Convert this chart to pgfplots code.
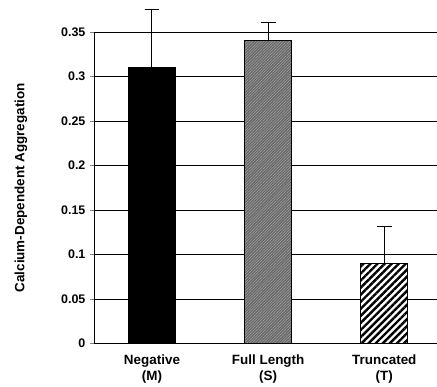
\documentclass[border=0pt]{standalone}
\usepackage{pgfplots}
\pgfplotsset{compat=1.18}
\usepackage{fontspec}
\setmainfont{Liberation Sans}
\usetikzlibrary{patterns.meta}
\begin{document}
\begin{tikzpicture}
\begin{axis}[
  scale only axis,
  width=343bp, height=312bp,
  xmin=-0.5, xmax=2.45,
  ymin=0, ymax=0.35,
  axis x line=bottom, axis y line=left,
  axis line style={-, line width=0.8pt},
  clip=false,
  ytick={0,0.05,...,0.35},
  yticklabels={0,0.05,0.1,0.15,0.2,0.25,0.3,0.35},
  yticklabel style={font=\fontsize{12.5}{14}\selectfont\bfseries, xshift=-1bp},
  xtick={0,1,2},
  xticklabels={{Negative\\(M)},{Full Length\\(S)},{Truncated\\(T)}},
  xticklabel style={font=\fontsize{13.5}{16}\selectfont\bfseries, align=center, yshift=-4bp},
  major x tick style={draw=none},
  extra x ticks={0.5,1.5},
  extra x tick labels={},
  extra x tick style={major tick length=5bp, tick align=outside, tick style={draw=black, line width=0.6pt}},
  tick align=outside,
  major tick length=4bp,
  ytick style={line width=0.8pt},
  ymajorgrids,
  grid style={black, line width=0.6pt},
  ylabel={\bfseries Calcium-Dependent Aggregation},
  every axis y label/.style={at={(axis description cs:-0.213,0.5)}, rotate=90, anchor=center, font=\fontsize{13.5}{14}\selectfont},
]
\addplot[ybar, bar width=47bp, draw=black, line width=0.8pt, fill=black,
  error bars/.cd, y dir=plus, y explicit,
  error bar style={black, line width=1pt},
  error mark options={rotate=90, black, line width=1pt, mark size=7.5bp}]
  coordinates {(0,0.31) +- (0,0.065)};
\addplot[ybar, bar width=47bp, draw=black, line width=0.8pt, fill=black!60,
  postaction={pattern={Lines[angle=45,distance=2pt,line width=0.5pt]}, pattern color=black!35},
  error bars/.cd, y dir=plus, y explicit,
  error bar style={black, line width=1pt},
  error mark options={rotate=90, black, line width=1pt, mark size=7.5bp}]
  coordinates {(1,0.34) +- (0,0.021)};
\addplot[ybar, bar width=47bp, draw=black, line width=0.8pt, fill=white,
  postaction={pattern={Lines[angle=45,distance=5bp,line width=2.4bp]}, pattern color=black},
  error bars/.cd, y dir=plus, y explicit,
  error bar style={black, line width=1pt},
  error mark options={rotate=90, black, line width=1pt, mark size=7.5bp}]
  coordinates {(2,0.09) +- (0,0.042)};
\end{axis}
\useasboundingbox (current axis.south west) ++(-94bp,-37bp) rectangle ++(437bp,381bp);
\end{tikzpicture}
\end{document}
